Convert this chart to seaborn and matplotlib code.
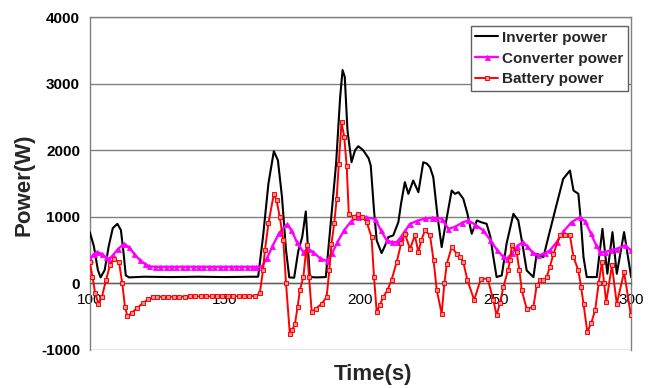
import matplotlib
matplotlib.use("Agg")
import matplotlib.pyplot as plt
import seaborn as sns
import pandas as pd

# Inverter power (W) vs time (s)
inv_t = [100, 101.5, 103, 104, 105.5, 107, 108.5, 110.2, 111.5, 112.5, 113.3, 114.5,
         120, 130, 140, 150, 160, 162.2, 164, 166, 168, 169.5, 171, 172.5, 173.7, 175.5,
         177, 178.5, 179.8, 180.5, 181.3, 184, 187.2, 189, 191, 192.5, 193.4, 194.2, 195.2,
         196.7, 198, 199.2, 201, 203, 203.8, 205, 206, 207.8, 209, 210.3, 212.1, 214, 215,
         216.4, 217.7, 219.5, 221.4, 223.2, 224.5, 225.7, 226.9, 228.5, 230, 231.5, 233.7,
         234.9, 236.2, 238, 239.5, 241.1, 243, 244.5, 246.6, 248, 249.1, 250.3, 252.2, 254,
         256.5, 258.3, 259.8, 261.4, 263.9, 265.1, 267.6, 268.8, 271.9, 274.9, 277.4, 278.7,
         280.5, 281.5, 282.4, 283.6, 287.3, 289.4, 291.2, 293.1, 294.7, 297.4, 300]
inv_p = [770, 560, 200, 90, 200, 560, 830, 895, 800, 450, 120, 90,
         100, 95, 100, 95, 100, 100, 700, 1500, 1985, 1850, 1300, 500, 90, 85,
         480, 700, 1080, 600, 95, 90, 95, 900, 1800, 2800, 3205, 3100, 2300,
         1820, 2000, 2060, 2000, 1880, 1770, 1100, 645, 455, 560, 695, 720, 920, 1200,
         1520, 1345, 1545, 1370, 1820, 1800, 1745, 1595, 1000, 545, 900, 1395,
         1345, 1370, 1270, 1050, 745, 945, 920, 895, 700, 395, 95, 120, 600,
         1045, 945, 600, 195, 95, 445, 395, 595, 1095, 1570, 1695, 1395,
         1345, 900, 395, 95, 95, 820, 145, 770, 145, 770, 95]

# Converter power (W) vs time (s)
conv_t = [100, 101.5, 102.8, 104.5, 106, 107.1, 108.5, 110.5, 112.7, 114.5, 116.5, 118.5,
          120.5, 122, 124, 126, 128, 130, 132, 134, 136, 138, 140, 142, 144, 146, 148, 150,
          152, 154, 156, 158, 160, 161.5, 163.5, 165.5, 167.5, 170, 172.7, 174.5, 176.5,
          178.9, 180.7, 182.5, 185, 187.5, 189.5, 191.5, 194, 196.5, 199.2, 202, 205.4,
          207.5, 209.7, 211.5, 213.4, 215, 216.5, 218.3, 221, 224, 226.3, 228, 230, 232.5,
          235, 237.5, 239.8, 242.5, 245.4, 248, 250.5, 252.5, 254, 256, 258, 259.9, 261.5,
          263.5, 265.7, 268, 270, 272.5, 275, 278, 281.1, 283, 285, 287, 288.5, 290.5,
          292.5, 294.7, 297.8, 300]
conv_p = [370, 440, 470, 440, 390, 370, 420, 520, 595, 540, 440, 350,
          290, 255, 250, 250, 250, 250, 250, 250, 250, 250, 250, 250, 250, 250, 250, 250,
          250, 250, 250, 250, 250, 250, 250, 380, 560, 760, 885, 800, 620,
          470, 520, 470, 380, 335, 450, 620, 800, 930, 995, 990, 970,
          800, 645, 620, 620, 700, 790, 895, 940, 975, 985, 985, 970, 820,
          850, 910, 945, 880, 795, 650, 500, 410, 370, 450, 560, 620, 560,
          470, 420, 450, 495, 620, 780, 920, 995, 930, 760, 580, 470, 470,
          500, 520, 570, 495]

# Battery power (W) vs time (s)
bat_t = [100, 101, 102, 103.2, 104.5, 106, 107.5, 109, 110.8, 112, 113, 113.9, 115.5,
         117.5, 119.5, 121.5, 123.2, 125, 127, 129, 131, 133, 135, 137, 139, 141, 143,
         145, 147, 149, 151, 153, 155, 157, 159, 161, 162.8, 164, 164.7, 166, 168, 169,
         170.2, 171.5, 172.5, 173.9, 174.8, 175.8, 176.8, 177.6, 178.9, 180.1, 181, 182,
         183.5, 185.7, 187.5, 188.5, 189.3, 190.3, 191.2, 192, 193, 194, 194.9, 195.7,
         197.5, 199.2, 200.7, 202.3, 204.1, 205, 206, 207.2, 208.4, 210, 211.5, 213.4,
         215, 216.4, 218.3, 220.1, 221.4, 222.5, 223.8, 225.7, 227, 228.2, 230, 231,
         231.9, 233.7, 235.6, 236.8, 238, 239.5, 242, 244.5, 247, 249.1, 250.3, 251.5,
         252.8, 254.5, 255.3, 255.9, 257.7, 258.7, 259.6, 261.4, 263.9, 265.1, 266.4,
         267.6, 268.8, 270, 271.3, 273.7, 275.5, 277.4, 278.7, 280.5, 281.5, 282.4,
         283.8, 285.2, 286.7, 288, 289.2, 290, 290.8, 292.9, 294.7, 297.4, 299.9]
bat_p = [320, 100, -150, -305, -200, 50, 280, 370, 320, 0, -350, -495, -440,
         -370, -300, -240, -205, -200, -200, -200, -200, -200, -200, -195, -195, -195, -195,
         -195, -195, -195, -195, -195, -190, -190, -190, -190, -150, 200, 495, 900, 1345, 1250,
         995, 645, 0, -755, -700, -605, -350, -105, 95, 570, 100, -430,
         -380, -305, -205, 200, 595, 900, 1270, 1800, 2420, 2200, 1770, 1045,
         1000, 1045, 1000, 920, 695, 100, -430, -320, -205, -100, 55, 320,
         600, 745, 520, 720, 470, 650, 795, 720, 350, -105, -455, 0,
         295, 545, 445, 400, 320, 50, -250, 70, 70, -255, -480, -300,
         -55, 200, 345, 570, 470, 200, -105, -380, -355, -30, 45,
         45, 95, 250, 445, 720, 730, 720, 395, 195, -50, -305,
         -730, -600, -405, 0, 320, 0, -280, 270, -305, 170, -480]

y_ticks = [-1000, 0, 1000, 2000, 3000, 4000]
x_ticks = [100, 150, 200, 250, 300]

sns.set_theme(style="white")
plt.rcParams["font.family"] = ["Liberation Sans", "DejaVu Sans"]

fig = plt.figure(figsize=(6.7, 3.88), dpi=100)
ax = fig.add_axes([0.134, 0.098, 0.808, 0.858])

inv = pd.DataFrame({"t": inv_t, "p": inv_p})
conv = pd.DataFrame({"t": conv_t, "p": conv_p})
bat = pd.DataFrame({"t": bat_t, "p": bat_p})

sns.lineplot(data=inv, x="t", y="p", ax=ax, color="black", lw=1.5,
             estimator=None, sort=False, label="Inverter power", zorder=3)
sns.lineplot(data=conv, x="t", y="p", ax=ax, color="#FF00FF", lw=1.7,
             marker="^", markersize=3.6, markeredgewidth=0.6, markeredgecolor="#FF00FF",
             estimator=None, sort=False, label="Converter power", zorder=4)
sns.lineplot(data=bat, x="t", y="p", ax=ax, color="#FF0000", lw=1.4,
             marker="s", markersize=3.4, markeredgewidth=0.7, markeredgecolor="#FF0000",
             markerfacecolor="#FF9090",
             estimator=None, sort=False, label="Battery power", zorder=5)

ax.set_xlim(100, 300)
ax.set_ylim(-1000, 4000)
ax.set_yticks(y_ticks)
ax.set_xticks(x_ticks)
ax.set_yticklabels([str(v) for v in y_ticks], fontsize=11, fontweight="bold")
ax.set_xticklabels([str(v) for v in x_ticks], fontsize=11, fontweight="bold")

ax.yaxis.grid(True, color="#808080", lw=1.0)
ax.xaxis.grid(False)
ax.set_axisbelow(True)

for side in ["top", "right", "left"]:
    ax.spines[side].set_color("#808080")
    ax.spines[side].set_linewidth(1.0)
ax.spines["bottom"].set_position(("data", 0))
ax.spines["bottom"].set_color("#606060")
ax.spines["bottom"].set_linewidth(1.0)

ax.tick_params(axis="x", direction="in", length=3, width=0.8, color="#606060",
               pad=7, labelcolor="black")
ax.tick_params(axis="y", length=0, pad=7, labelcolor="black")

ax.set_xlabel("")
ax.set_ylabel("")
fig.text(0.556, 0.034, "Time(s)", ha="center", va="center",
         fontsize=16, fontweight="bold")
fig.text(0.036, 0.523, "Power(W)", ha="center", va="center", rotation=90,
         fontsize=16, fontweight="bold")

leg = ax.legend(loc="upper right", bbox_to_anchor=(0.994, 0.973), borderaxespad=0,
                prop={"size": 11, "weight": "bold"}, frameon=True, fancybox=False,
                framealpha=1, edgecolor="#606060", handlelength=1.5,
                handletextpad=0.25, labelspacing=0.45, borderpad=0.3)
leg.get_frame().set_linewidth(1.0)

fig.savefig("out.png", dpi=100)
